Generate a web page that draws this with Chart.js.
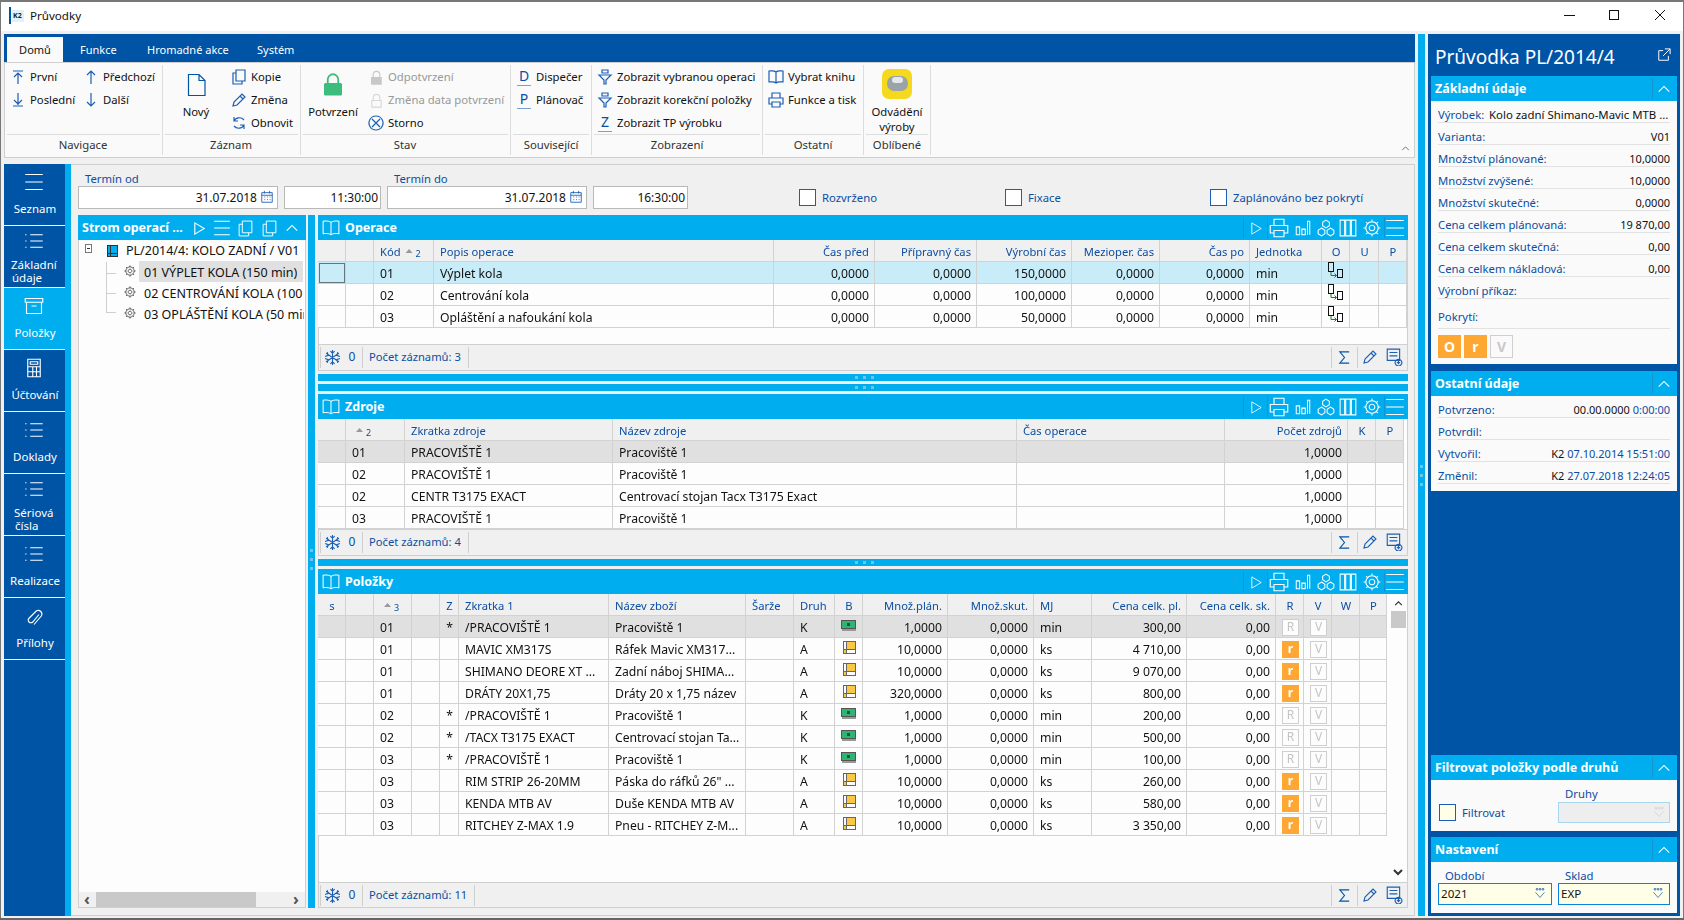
<!DOCTYPE html>
<html lang="cs">
<head>
<meta charset="utf-8">
<title>Průvodky</title>
<script src="https://cdn.jsdelivr.net/npm/chart.js"></script>
<style>
    html, body { margin: 0; padding: 0; background: #f0f0f0; overflow: hidden; }
    #app { position: relative; width: 1684px; height: 920px; overflow: hidden; font-family: "Noto Sans", sans-serif; font-size: 11.3px; color: #111; }
    #app div, #app span, #app svg, #app canvas { position: absolute; }
    .t { white-space: nowrap; height: 20px; line-height: 20px; }
</style>
</head>
<body>
<div id="app"></div>
<script>
// Operace
const opKod = ['01', '02', '03'];
const opPopis = ['Výplet kola', 'Centrování kola', 'Opláštění a nafoukání kola'];
const opCasPred = [0, 0, 0];
const opPriprava = [0, 0, 0];
const opVyrobni = [150, 100, 50];
const opMezi = [0, 0, 0];
const opCasPo = [0, 0, 0];
const opJednotka = ['min', 'min', 'min'];

// Zdroje
const zdrojKod = ['01', '02', '02', '03'];
const zdrojZkratka = ['PRACOVIŠTĚ 1', 'PRACOVIŠTĚ 1', 'CENTR T3175 EXACT', 'PRACOVIŠTĚ 1'];
const zdrojNazev = ['Pracoviště 1', 'Pracoviště 1', 'Centrovací stojan Tacx T3175 Exact', 'Pracoviště 1'];
const zdrojPocet = [1, 1, 1, 1];

// Položky
const polKod = ['01', '01', '01', '01', '02', '02', '03', '03', '03', '03'];
const polZ = ['*', '', '', '', '*', '*', '*', '', '', ''];
const polZkratka = ['/PRACOVIŠTĚ 1', 'MAVIC XM317S', 'SHIMANO DEORE XT ...', 'DRÁTY 20X1,75', '/PRACOVIŠTĚ 1', '/TACX T3175 EXACT', '/PRACOVIŠTĚ 1', 'RIM STRIP 26-20MM', 'KENDA MTB AV', 'RITCHEY Z-MAX 1.9'];
const polNazev = ['Pracoviště 1', 'Ráfek Mavic XM317...', 'Zadní náboj SHIMA...', 'Dráty 20 x 1,75 název', 'Pracoviště 1', 'Centrovací stojan Ta...', 'Pracoviště 1', 'Páska do ráfků 26" ...', 'Duše KENDA MTB AV', 'Pneu - RITCHEY Z-M...'];
const polDruh = ['K', 'A', 'A', 'A', 'K', 'K', 'K', 'A', 'A', 'A'];
const polPlan = [1, 10, 10, 320, 1, 1, 1, 10, 10, 10];
const polSkut = [0, 0, 0, 0, 0, 0, 0, 0, 0, 0];
const polMj = ['min', 'ks', 'ks', 'ks', 'min', 'min', 'min', 'ks', 'ks', 'ks'];
const polCenaPl = [300, 4710, 9070, 800, 200, 500, 100, 260, 580, 3350];
const polCenaSk = [0, 0, 0, 0, 0, 0, 0, 0, 0, 0];

// Postranní panel
const infoLabels = ['Výrobek:', 'Varianta:', 'Množství plánované:', 'Množství zvýšené:', 'Množství skutečné:', 'Cena celkem plánovaná:', 'Cena celkem skutečná:', 'Cena celkem nákladová:', 'Výrobní příkaz:'];
const infoValues = ['', 'V01', '10,0000', '10,0000', '0,0000', '19 870,00', '0,00', '0,00', ''];
const otherLabels = ['Potvrzeno:', 'Potvrdil:', 'Vytvořil:', 'Změnil:'];
const otherBlack = ['00.00.0000', '', 'K2', 'K2'];
const otherBlue = ['0:00:00', '', '07.10.2014 15:51:00', '27.07.2018 12:24:05'];

// sloupce mrizek, hrany v pixelech stranky
const opEdges = [318, 346, 374, 434, 774, 875, 977, 1072, 1160, 1250, 1322, 1350, 1379, 1407];
const zdrojEdges = [318, 346, 405, 613, 1017, 1225, 1348, 1376, 1404];
const polEdges = [318, 346, 374, 412, 440, 459, 609, 746, 794, 835, 863, 948, 1034, 1092, 1187, 1276, 1304, 1332, 1360, 1387];

const BLUE = '#0054a6', CYAN = '#00aeef', LABEL = '#0b4ea2', LINE = '#d2d2d2';
const FONT = '"Noto Sans", sans-serif';

const fmt4 = v => v.toFixed(4).replace('.', ',');
const fmtPrice = v => v.toFixed(2).replace('.', ',').replace(/\B(?=(\d{3})(?!\d))/g, ' ');
const blank = n => Array(n).fill('');

const ICONS = {
    first: 'M3 2h10M8 15V4M4 8l4-4 4 4', last: 'M3 14h10M8 1v12M4 8l4 4 4-4',
    up: 'M8 15V2M4 6l4-4 4 4', down: 'M8 1v13M4 10l4 4 4-4',
    doc: 'M3 1h7l4 4v10H3zM10 1v4h4', copy: 'M5 1h9v11H5zM5 4H2v11h9v-3',
    pencil: 'M2 14l1-4 8-8 3 3-8 8zM9 4l3 3', refresh: 'M13 5a6 6 0 0 0-10 1M3 2v4h4M3 11a6 6 0 0 0 10-1M13 14v-4H9',
    xcircle: 'M8 1a7 7 0 1 0 .01 0zM4 4l8 8M12 4l-8 8',
    funnel: 'M5 1h6v3H5zM2 6h12L9 11v4H7v-4z', book: 'M8 3C6 1 3 2 1 2v11c2 0 5-1 7 1 2-2 5-1 7-1V2c-2 0-5-1-7 1zM8 3v11',
    printer: 'M4 6V1h8v5M4 12H1V6h14v6h-3M4 10h8v5H4z', bars: 'M2 14V7h3v7zM7 14V9h3v5zM12 14V2h2v12',
    cubes: 'M8 1l3 2v3l-3 2-3-2V3zM4 8l3 2v3l-3 2-3-2v-3zM12 8l3 2v3l-3 2-3-2v-3z', cols: 'M1 1h4v14H1zM6 1h4v14H6zM11 1h4v14h-4z',
    gear: 'M8 2.5a5.5 5.5 0 1 0 .01 0zM8 5.5a2.5 2.5 0 1 0 .01 0zM8 .5v2M8 13.5v2M.5 8h2M13.5 8h2M2.7 2.7l1.4 1.4M13.3 2.7l-1.4 1.4M2.7 13.3l1.4-1.4M13.3 13.3l-1.4-1.4',
    menu: 'M1 2h14M1 8h14M1 14h14', play: 'M3 2l10 6-10 6z', sigma: 'M13 2H3l5 6-5 6h10',
    snow: 'M8 1v14M2 4l12 8M14 4L2 12M6 2l2 2 2-2M6 14l2-2 2 2M1 7l3-1-1-3M15 7l-3-1 1-3M1 9l3 1-1 3M15 9l-3 1 1 3',
    addlist: 'M2 1h11v10H2zM4 4h7M4 7h7M12 10a3 3 0 1 0 .01 0zM12 11.5v3M10.5 13h3', chevron: 'M2 11l6-6 6 6',
    list: 'M5 3h10M5 8h10M5 13h10M1 3h1M1 8h1M1 13h1', box: 'M1 2h14v3H1zM2 5v9h12V5M6 8h4',
    calc: 'M3 1h10v14H3zM5 3h6v2H5zM3 7h10M3 11h10M7 7v8M10 7v8', clip: 'M12 6l-5 6a2 2 0 0 1-3-3l6-6a3 3 0 0 1 4 4l-6 7',
    calendar: 'M2 3h12v11H2zM2 6h12M5 1v3M11 1v3M5 8h1M8 8h1M11 8h1M5 11h1M8 11h1M11 11h1', openext: 'M7 3H2v11h11V9M9 1h6v6M15 1L7 9',
    lock: 'M4.5 8V5a3.5 3.5 0 0 1 7 0v3M3 8h10v7H3z', combo: 'M2 7l6 7 6-7M3 2h2v2H3zM7 2h2v2H7zM11 2h2v2h-2z'
};

const app = document.getElementById('app');
let out = '';

function box(x1, y1, x2, y2, bg, border) {
    const b = border ? `border:1px solid ${border};box-sizing:border-box;` : '';
    out += `<div style="left:${x1}px;top:${y1}px;width:${x2 - x1}px;height:${y2 - y1}px;background:${bg || 'transparent'};${b}"></div>`;
}

function text(x, y, s, o = {}) {
    const side = o.align === 'r' ? `right:${1684 - x}px;` : `left:${x}px;`;
    const shift = o.align === 'c' ? 'transform:translateX(-50%);' : '';
    const clip = o.maxWidth ? `max-width:${o.maxWidth}px;overflow:hidden;` : '';
    out += `<span class="t" style="${side}top:${y - 10}px;color:${o.color || '#111'};font-size:${o.size || 11.3}px;font-weight:${o.weight || 400};${shift}${clip}">${s}</span>`;
}

function ico(name, cx, cy, size, color, sw = 1.2, fill = 'none') {
    out += `<svg style="left:${cx - size / 2}px;top:${cy - size / 2}px" width="${size}" height="${size}" viewBox="0 0 16 16"><path d="${ICONS[name]}" fill="${fill}" stroke="${color}" stroke-width="${sw}"/></svg>`;
}

function drawTitleBar() {
    box(0, 0, 1684, 2, '#777');
    box(0, 0, 1, 920, '#777');
    box(1683, 0, 1684, 920, '#777');
    box(0, 918, 1684, 920, '#666');
    box(1, 2, 1683, 31, '#fff');
    box(9, 7, 11, 24, BLUE);
    box(12, 10, 24, 22, '#dff1fb');
    text(13, 16, 'K2', { size: 7, weight: 700, color: '#123' });
    text(30, 16, 'Průvodky', { size: 11.6 });
    box(1564, 15, 1575, 16, '#111');
    box(1609, 10, 1619, 20, 'transparent', '#111');
    out += '<svg style="left:1654px;top:9px" width="12" height="12"><path d="M1 1l10 10M11 1L1 11" stroke="#111" stroke-width="1"/></svg>';
}

function drawRibbon() {
    box(4, 34, 1415, 62, BLUE);
    box(7, 37, 63, 62, '#fafafa');
    text(35, 50, 'Domů', { align: 'c', size: 11 });
    [['Funkce', 80], ['Hromadné akce', 147], ['Systém', 257]].forEach(([s, x]) => text(x, 50, s, { color: '#fff', size: 11 }));
    box(4, 62, 1415, 158, '#fafafa', '#cfcfcf');
    [162, 300, 510, 591, 762, 863, 930].forEach(x => box(x, 65, x + 1, 155, '#ddd'));
    [[7, 160], [165, 298], [303, 508], [513, 589], [594, 760], [765, 861], [866, 928]].forEach(([a, b]) => box(a, 134, b, 135, '#ddd'));
    [['Navigace', 83], ['Záznam', 231], ['Stav', 405], ['Související', 551], ['Zobrazení', 677], ['Ostatní', 813], ['Oblíbené', 897]].forEach(([s, x]) => text(x, 145, s, { align: 'c', color: '#333' }));
    const items = [
        ['first', 18, 77, 'První'], ['last', 18, 100, 'Poslední'], ['up', 91, 77, 'Předchozí'], ['down', 91, 100, 'Další'],
        ['copy', 239, 77, 'Kopie'], ['pencil', 239, 100, 'Změna'], ['refresh', 239, 123, 'Obnovit'],
        ['xcircle', 376, 123, 'Storno'],
        ['funnel', 605, 77, 'Zobrazit vybranou operaci'], ['funnel', 605, 100, 'Zobrazit korekční položky'],
        ['book', 776, 77, 'Vybrat knihu'], ['printer', 776, 100, 'Funkce a tisk']
    ];
    items.forEach(([icon, x, y, s]) => {
        ico(icon, x, y, 16, '#1a5fb4');
        text(x + 12, y, s);
    });
    ico('lock', 376, 77, 15, '#c8c8c8', 1.2);
    box(371, 77, 381, 84, '#c8c8c8');
    text(388, 77, 'Odpotvrzení', { color: '#999' });
    ico('lock', 376, 100, 15, '#d8d8d8', 1.2);
    text(388, 100, 'Změna data potvrzení', { color: '#999' });
    [['D', 524, 77, 'Dispečer', 536], ['P', 524, 100, 'Plánovač', 536], ['Z', 605, 123, 'Zobrazit TP výrobku', 617]].forEach(([c, x, y, s, tx]) => {
        text(x, y - 1, c, { align: 'c', color: LABEL, size: 14 });
        box(x - 7, y + 8, x + 7, y + 9, '#7a9fd0');
        text(tx, y, s);
    });
    ico('doc', 196, 85, 24, BLUE, 0.8);
    text(196, 112, 'Nový', { align: 'c' });
    ico('lock', 333, 84, 24, '#3dbd7d', 1.2);
    box(324, 84, 342, 95, '#3dbd7d');
    text(333, 112, 'Potvrzení', { align: 'c' });
    out += '<div style="left:882px;top:69px;width:30px;height:30px;background:#f4d91f;border-radius:7px"></div>';
    out += '<div style="left:887px;top:76px;width:21px;height:15px;background:#9aa3a8;border-radius:7px"></div><div style="left:892px;top:77px;width:11px;height:6px;background:#e4e8ea;border-radius:4px"></div>';
    text(897, 112, 'Odvádění', { align: 'c' });
    text(897, 127, 'výroby', { align: 'c' });
    ico('chevron', 1405, 148, 9, '#333');
    box(4, 164, 1415, 165, '#cfcfcf');
    box(1414, 164, 1415, 916, '#cfcfcf');
    box(71, 915, 1415, 916, '#cfcfcf');
}

function drawNav() {
    box(4, 164, 65, 916, BLUE);
    box(65, 164, 71, 916, CYAN);
    box(4, 287, 65, 349, CYAN);
    const navIcons = [['menu', 182], ['list', 241], ['box', 306], ['calc', 368], ['list', 430], ['list', 489], ['list', 554], ['clip', 617]];
    navIcons.forEach(([icon, y]) => ico(icon, 34, y, 20, '#fff', 0.9));
    [225, 287, 349, 411, 473, 535, 597, 659].forEach(y => box(4, y, 65, y + 1, '#fff'));
    [['Seznam', 209], ['Položky', 333], ['Účtování', 395], ['Doklady', 457], ['Realizace', 581], ['Přílohy', 643]].forEach(([s, y]) => text(35, y, s, { align: 'c', color: '#fff', size: 11.5 }));
    [['Základní', 11, 265], ['údaje', 12, 278], ['Sériová', 14, 513], ['čísla', 15, 526]].forEach(([s, x, y]) => text(x, y, s, { color: '#fff', size: 11.5 }));
}

function drawFilter() {
    text(85, 179, 'Termín od', { color: LABEL });
    text(394, 179, 'Termín do', { color: LABEL });
    [[78, 278, '31.07.2018', 257], [387, 587, '31.07.2018', 566]].forEach(([a, b, s, x]) => {
        box(a, 186, b, 209, '#fff', '#b9b9b9');
        text(x, 197.5, s, { align: 'r', size: 12 });
        ico('calendar', b - 11, 197, 14, '#1a5fb4', 1);
    });
    [[284, 381, '11:30:00'], [593, 688, '16:30:00']].forEach(([a, b, s]) => {
        box(a, 186, b, 209, '#fff', '#b9b9b9');
        text(b - 3, 197.5, s, { align: 'r', size: 12 });
    });
    [[799, 'Rozvrženo'], [1005, 'Fixace'], [1210, 'Zaplánováno bez pokrytí']].forEach(([x, s]) => {
        box(x, 189, x + 17, 206, '#fff', '#1a5fb4');
        text(x + 23, 198, s, { color: LABEL });
    });
}

function drawTree() {
    box(78, 215, 306, 908, '#fdfdfd', '#cfcfcf');
    box(78, 215, 306, 240, CYAN);
    text(82, 228, 'Strom operací ...', { color: '#fff', weight: 700, size: 12.5 });
    ico('play', 199, 228, 15, '#fff');
    ico('menu', 222, 228, 18, '#fff', 0.9);
    ico('copy', 245, 228, 17, '#fff', 0.9);
    ico('copy', 269, 228, 17, '#fff', 0.9);
    ico('chevron', 292, 228, 14, '#fff');
    box(85, 244, 92, 253, '#fff', '#777');
    box(87, 248, 90, 249, '#333');
    box(107, 245, 118, 257, '#00aeef', '#333');
    box(110, 245, 111, 257, '#333');
    box(107, 253, 118, 254, '#333');
    text(126, 251, 'PL/2014/4: KOLO ZADNÍ / V01', { size: 12.5 });
    box(139, 261, 303, 282, '#e0e0e0');
    box(106, 262, 107, 313, '#cfcfcf');
    [273, 293, 312].forEach(y => box(106, y, 116, y + 1, '#cfcfcf'));
    [['01 VÝPLET KOLA (150 min)', 272.5], ['02 CENTROVÁNÍ KOLA (100 min)', 293.5], ['03 OPLÁŠTĚNÍ KOLA (50 min)', 314.5]].forEach(([s, y]) => {
        ico('gear', 130, y - 2, 12, '#333', 1);
        text(144, y, s, { size: 12.5, maxWidth: 160 });
    });
    box(79, 892, 305, 907, '#f0f0f0');
    box(96, 892, 256, 907, '#c9c9c9');
    text(87, 899, '‹', { align: 'c', color: '#555', weight: 700, size: 16 });
    text(296, 899, '›', { align: 'c', color: '#555', weight: 700, size: 16 });
    box(308, 215, 315, 908, CYAN);
    [549, 558, 567].forEach(y => box(310, y, 313, y + 3, '#6cc5ea'));
}

function drawPanel(yTop, yFoot, yEnd, title, count, extra) {
    box(318, yTop, 1408, yEnd, '#fdfdfd', '#cfcfcf');
    box(318, yTop, 1408, yTop + 25, CYAN);
    const cy = yTop + 13;
    ico('book', 331, cy, 18, '#fff', 0.9);
    text(345, cy, title, { color: '#fff', weight: 700, size: 12.5 });
    if (extra) text(1231, cy, '?', { color: '#2a9fd6', size: 12 });
    [['play', 1256, 15], ['printer', 1279, 20], ['bars', 1303, 18], ['cubes', 1326, 18], ['cols', 1348, 18], ['gear', 1372, 18], ['menu', 1395, 20]].forEach(([icon, x, s]) => ico(icon, x, cy, s, '#fff', 0.9));
    [1243, 1267, 1384].forEach(x => box(x, yTop + 2, x + 1, yTop + 23, '#1296cf'));
    box(319, yFoot, 1407, yEnd - 1, '#f0f0f0');
    box(319, yFoot, 1407, yFoot + 1, '#cfcfcf');
    const fy = yFoot + 13;
    ico('snow', 332, fy, 17, '#1a5fb4', 1);
    text(352, fy, '0', { color: LABEL, size: 12, align: 'c' });
    text(369, fy, count, { color: LABEL, size: 11.2 });
    [320, 362, count.length > 16 ? 474 : 468, 1331, 1357].forEach(x => box(x, yFoot + 3, x + 1, yFoot + 24, '#cfcfcf'));
    ico('sigma', 1344, fy, 15, BLUE, 1.2);
    ico('pencil', 1370, fy, 16, '#1a5fb4', 1.1);
    ico('addlist', 1394, fy, 18, '#1a5fb4', 1);
}

function drawSidebar() {
    box(1418, 34, 1425, 916, CYAN);
    box(1428, 34, 1680, 916, BLUE);
    [465, 474, 483].forEach(y => box(1420, y, 1423, y + 3, '#6cc5ea'));
    text(1435, 57, 'Průvodka PL/2014/4', { color: '#fff', size: 19 });
    ico('openext', 1664, 55, 14, '#fff', 1.1);
    const section = (y1, y2, title) => {
        box(1431, y1, 1677, y2, '#fafafa');
        box(1431, y1, 1677, y1 + 25, CYAN);
        text(1435, y1 + 13, title, { color: '#fff', weight: 700, size: 12.5 });
        box(1652, y1 + 2, 1653, y1 + 23, '#1296cf');
        ico('chevron', 1664, y1 + 13, 14, '#fff');
    };
    section(76, 364, 'Základní údaje');
    infoLabels.forEach((s, i) => {
        const y = 115 + 22 * i;
        text(1438, y, s, { color: LABEL });
        text(1670, y, infoValues[i], { align: 'r', size: 11 });
        box(1438, y + 7, 1670, y + 8, '#e2e2e2');
    });
    text(1489, 115, 'Kolo zadní Shimano-Mavic MTB ...', { size: 11.4 });
    text(1438, 317, 'Pokrytí:', { color: LABEL });
    box(1438, 328, 1670, 329, '#e2e2e2');
    box(1438, 335, 1461, 358, '#ffa733');
    box(1464, 335, 1487, 358, '#ffa733');
    box(1490, 335, 1513, 358, '#fafafa', '#cfcfcf');
    text(1449.5, 347, 'O', { align: 'c', color: '#fff', weight: 700, size: 14 });
    text(1475.5, 347, 'r', { align: 'c', color: '#fff', weight: 700, size: 14 });
    text(1501.5, 347, 'V', { align: 'c', color: '#c8c8c8', weight: 700, size: 14 });

    section(371, 491, 'Ostatní údaje');
    otherLabels.forEach((s, i) => {
        const y = 410 + 22 * i;
        text(1438, y, s, { color: LABEL });
        text(1670, y, otherBlack[i] ? `<span style="position:static;color:#111">${otherBlack[i]}</span> ${otherBlue[i]}` : '', { align: 'r', color: LABEL, size: 11 });
        box(1438, y + 7, 1670, y + 8, '#e2e2e2');
    });

    section(755, 831, 'Filtrovat položky podle druhů');
    text(1565, 794, 'Druhy', { color: LABEL });
    box(1439, 804, 1456, 821, '#ffffe8', '#1a5fb4');
    text(1462, 813, 'Filtrovat', { color: LABEL });
    box(1558, 802, 1670, 823, '#eeeeee', '#a9d6ef');
    ico('combo', 1659, 812, 12, '#d0d0d0', 1);

    section(837, 913, 'Nastavení');
    text(1445, 876, 'Období', { color: LABEL });
    text(1565, 876, 'Sklad', { color: LABEL });
    [[1438, 1552, '2021'], [1558, 1670, 'EXP']].forEach(([a, b, s]) => {
        box(a, 883, b, 905, '#ffffe8', '#0a84d8');
        text(a + 3, 894, s, { size: 11.6 });
        ico('combo', b - 12, 893, 12, '#1a5fb4', 1);
    });
}

drawTitleBar();
drawRibbon();
drawNav();
drawFilter();
drawTree();
drawPanel(215, 344, 371, 'Operace', 'Počet záznamů: 3');
box(318, 374, 1408, 381, CYAN);
box(318, 384, 1408, 391, CYAN);
drawPanel(394, 529, 556, 'Zdroje', 'Počet záznamů: 4');
box(318, 559, 1408, 566, CYAN);
drawPanel(569, 882, 908, 'Položky', 'Počet záznamů: 11', true);
[374, 384, 559].forEach(y => [0, 8, 16].forEach(d => box(855 + d, y + 2, 858 + d, y + 5, '#6cc5ea')));
box(1391, 594, 1407, 881, '#fdfdfd');
box(1391, 611, 1406, 628, '#c9c9c9');
ico('chevron', 1398, 603, 9, '#333', 2);
out += '<svg style="left:1393px;top:869px" width="10" height="8"><path d="M1 1l4 4 4-4" fill="none" stroke="#333" stroke-width="2"/></svg>';
drawSidebar();
app.innerHTML = out;

// Bunka: ikonky kreslene primo do platna
function drawCellIcon(ctx, kind, cx, cy) {
    if (kind === 'money') {
        ctx.fillStyle = '#555';
        ctx.fillRect(cx - 8, cy - 7, 15, 9);
        ctx.fillStyle = '#2fb573';
        ctx.fillRect(cx - 7, cy - 6, 13, 7);
        ctx.fillStyle = '#999';
        ctx.fillRect(cx - 7, cy + 2, 14, 2);
        ctx.fillStyle = '#0d5c38';
        ctx.fillRect(cx - 2, cy - 4, 3, 3);
    } else if (kind === 'goods') {
        ctx.fillStyle = '#fdfdfd';
        ctx.fillRect(cx - 5, cy - 7, 11, 11);
        ctx.fillStyle = '#f9c846';
        ctx.fillRect(cx - 2, cy - 7, 8, 7);
        ctx.fillRect(cx - 5, cy + 1, 3, 3);
        ctx.strokeStyle = '#666';
        ctx.lineWidth = 1;
        ctx.strokeRect(cx - 5.5, cy - 7.5, 12, 12);
        ctx.beginPath();
        ctx.moveTo(cx - 2.5, cy - 7);
        ctx.lineTo(cx - 2.5, cy + 4);
        ctx.moveTo(cx - 5, cy + 0.5);
        ctx.lineTo(cx + 6, cy + 0.5);
        ctx.stroke();
    } else if (kind === 'flow') {
        ctx.strokeStyle = '#111';
        ctx.lineWidth = 1;
        ctx.strokeRect(cx - 7.5, cy - 10.5, 5, 9);
        ctx.strokeRect(cx + 1.5, cy - 3.5, 5, 8);
        ctx.strokeStyle = '#1a7f2a';
        ctx.beginPath();
        ctx.moveTo(cx - 5, cy - 1);
        ctx.lineTo(cx - 5, cy + 2.5);
        ctx.lineTo(cx + 0.5, cy + 2.5);
        ctx.moveTo(cx - 1.5, cy + 0.5);
        ctx.lineTo(cx + 0.5, cy + 2.5);
        ctx.lineTo(cx - 1.5, cy + 4.5);
        ctx.stroke();
    } else {
        // odznak R/r/V
        const on = kind === 'r';
        ctx.fillStyle = on ? '#ffa733' : '#fdfdfd';
        ctx.fillRect(cx - 8, cy - 8, 17, 17);
        if (!on) {
            ctx.strokeStyle = '#cfcfcf';
            ctx.lineWidth = 1;
            ctx.strokeRect(cx - 7.5, cy - 7.5, 16, 16);
        }
        ctx.fillStyle = on ? '#fff' : '#c4c4c4';
        ctx.font = `${on ? 700 : 400} 12px ${FONT}`;
        ctx.textAlign = 'center';
        ctx.fillText(kind, cx + 0.5, cy + 1);
    }
}

const cellText = {
    id: 'cellText',
    afterDatasetsDraw(chart) {
        const ctx = chart.ctx;
        ctx.save();
        ctx.textBaseline = 'middle';
        chart.data.datasets.forEach((ds, c) => {
            chart.getDatasetMeta(c).data.forEach((bar, r) => {
                const left = bar.base, right = bar.x, y = bar.y;
                const val = ds.cells[r];
                if (val === '') return;
                if (val.startsWith('#')) {
                    drawCellIcon(ctx, val.slice(1), Math.round((left + right) / 2), Math.round(y));
                    return;
                }
                ctx.font = `${r === 0 ? 11.2 : 12.2}px ${FONT}`;
                ctx.fillStyle = r === 0 ? LABEL : '#111';
                ctx.textAlign = ds.align === 'r' ? 'right' : ds.align === 'c' ? 'center' : 'left';
                const x = ds.align === 'r' ? right - 6 : ds.align === 'c' ? (left + right) / 2 : left + 6;
                ctx.fillText(val, x, y + 1.5);
            });
            if (ds.sort) {
                const y = chart.getDatasetMeta(c).data[0].y;
                ctx.font = `11.2px ${FONT}`;
                const start = chart.getDatasetMeta(c).data[0].base + (ds.header ? 6 + ctx.measureText(ds.header).width + 5 : 10);
                ctx.fillStyle = '#999';
                ctx.beginPath();
                ctx.moveTo(start, y + 2);
                ctx.lineTo(start + 7, y + 2);
                ctx.lineTo(start + 3.5, y - 2);
                ctx.fill();
                ctx.fillStyle = LABEL;
                ctx.font = `9px ${FONT}`;
                ctx.textAlign = 'left';
                ctx.fillText(String(ds.sort), start + 10, y + 3);
            }
        });
        ctx.restore();
        if (chart.options.plugins.cellText.focus) {
            const bar = chart.getDatasetMeta(0).data[1];
            ctx.save();
            ctx.setLineDash([1, 1]);
            ctx.strokeStyle = '#000';
            ctx.lineWidth = 1;
            ctx.strokeRect(bar.base + 1.5, bar.y - 9.5, bar.x - bar.base - 3, 19);
            ctx.restore();
        }
    }
};

// Mrizka: kazdy sloupec je dataset skladaneho vodorovneho grafu, bunka je jeden bar
function gridChart(yTop, edges, columns, firstRowColor, focus) {
    const rowCount = columns[0].values.length + 1;
    const height = rowCount * 22;
    const canvas = document.createElement('canvas');
    canvas.style.left = edges[0] + 'px';
    canvas.style.top = yTop + 'px';
    canvas.width = edges[edges.length - 1] - edges[0];
    canvas.height = height;
    app.appendChild(canvas);
    const rowColor = ctx => ctx.dataIndex === 0 ? '#f0f0f0' : ctx.dataIndex === 1 ? firstRowColor : '#fdfdfd';
    new Chart(canvas, {
        type: 'bar',
        data: {
            labels: Array.from({ length: rowCount }, (_, i) => i),
            datasets: columns.map((col, i) => ({
                data: Array(rowCount).fill(edges[i + 1] - edges[i]),
                cells: [col.header, ...col.values],
                header: col.header,
                align: col.align || 'l',
                sort: col.sort,
                backgroundColor: rowColor,
                borderColor: LINE,
                borderWidth: { top: 0, left: 0, right: 1, bottom: 1 },
                borderSkipped: false,
                inflateAmount: 0,
                barPercentage: 1,
                categoryPercentage: 1
            }))
        },
        options: {
            indexAxis: 'y',
            responsive: false,
            animation: false,
            layout: { padding: 0 },
            scales: {
                x: { stacked: true, display: false, min: 0, max: edges[edges.length - 1] - edges[0] },
                y: { stacked: true, display: false }
            },
            plugins: { legend: { display: false }, tooltip: { enabled: false }, cellText: { focus } }
        },
        plugins: [cellText]
    });
}

const n1 = opKod.length, n2 = zdrojKod.length, n3 = polKod.length;

gridChart(240, opEdges, [
    { header: '', values: blank(n1) },
    { header: '', values: blank(n1) },
    { header: 'Kód', values: opKod, sort: 2 },
    { header: 'Popis operace', values: opPopis },
    { header: 'Čas před', values: opCasPred.map(fmt4), align: 'r' },
    { header: 'Přípravný čas', values: opPriprava.map(fmt4), align: 'r' },
    { header: 'Výrobní čas', values: opVyrobni.map(fmt4), align: 'r' },
    { header: 'Mezioper. čas', values: opMezi.map(fmt4), align: 'r' },
    { header: 'Čas po', values: opCasPo.map(fmt4), align: 'r' },
    { header: 'Jednotka', values: opJednotka },
    { header: 'O', values: opKod.map(() => '#flow'), align: 'c' },
    { header: 'U', values: blank(n1), align: 'c' },
    { header: 'P', values: blank(n1), align: 'c' }
], '#c9ecf9', true);

gridChart(419, zdrojEdges, [
    { header: '', values: blank(n2) },
    { header: '', values: zdrojKod, sort: 2 },
    { header: 'Zkratka zdroje', values: zdrojZkratka },
    { header: 'Název zdroje', values: zdrojNazev },
    { header: 'Čas operace', values: blank(n2) },
    { header: 'Počet zdrojů', values: zdrojPocet.map(fmt4), align: 'r' },
    { header: 'K', values: blank(n2), align: 'c' },
    { header: 'P', values: blank(n2), align: 'c' }
], '#e0e0e0');

gridChart(594, polEdges, [
    { header: 's', values: blank(n3), align: 'c' },
    { header: '', values: blank(n3) },
    { header: '', values: polKod, sort: 3 },
    { header: '', values: blank(n3) },
    { header: 'Z', values: polZ, align: 'c' },
    { header: 'Zkratka 1', values: polZkratka },
    { header: 'Název zboží', values: polNazev },
    { header: 'Šarže', values: blank(n3) },
    { header: 'Druh', values: polDruh },
    { header: 'B', values: polDruh.map(d => d === 'K' ? '#money' : '#goods'), align: 'c' },
    { header: 'Množ.plán.', values: polPlan.map(fmt4), align: 'r' },
    { header: 'Množ.skut.', values: polSkut.map(fmt4), align: 'r' },
    { header: 'MJ', values: polMj },
    { header: 'Cena celk. pl.', values: polCenaPl.map(fmtPrice), align: 'r' },
    { header: 'Cena celk. sk.', values: polCenaSk.map(fmtPrice), align: 'r' },
    { header: 'R', values: polDruh.map(d => d === 'K' ? '#R' : '#r'), align: 'c' },
    { header: 'V', values: polDruh.map(() => '#V'), align: 'c' },
    { header: 'W', values: blank(n3), align: 'c' },
    { header: 'P', values: blank(n3), align: 'c' }
], '#e0e0e0');
</script>
</body>
</html>
